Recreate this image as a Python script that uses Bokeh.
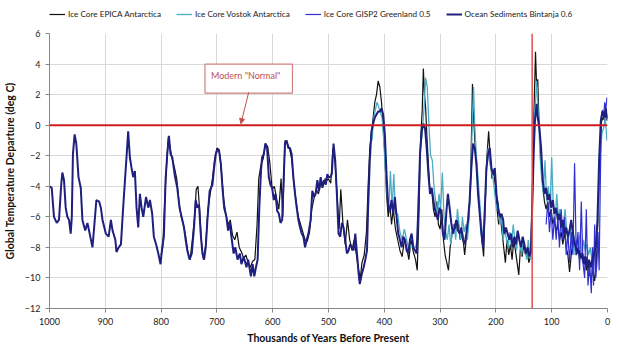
from bokeh.plotting import figure
from bokeh.layouts import column
from bokeh.models import (Range1d, Legend, LegendItem, Label, Arrow, NormalHead,
                          Span, FixedTicker)
from bokeh.embed import file_html
from bokeh.resources import INLINE

# ---------------- data (thousands of years BP, deg C departure) ----------------
bint_x = [1000, 996, 992, 987, 983, 979, 977, 974, 971, 968, 965, 962, 960, 958, 955, 952,
          948, 944, 941, 936, 932, 928, 923, 920, 916, 911, 908, 905, 899, 894, 890, 887,
          882, 880, 876, 872, 868, 864, 862, 859, 856, 853, 850, 847, 844, 841, 838, 835,
          832, 827, 823, 820, 816, 813, 809, 805, 801, 798, 795, 792, 789, 786, 783, 780,
          775, 771, 767, 762, 759, 756, 753, 749, 745, 741, 738, 735, 732, 729, 726, 723,
          720, 717, 713, 708, 705, 702, 699, 696, 693, 690, 687, 683, 680, 677, 674, 670,
          667, 663, 659, 656, 652, 647, 644, 639, 636, 633, 630, 627, 624, 621, 619, 616,
          613, 610, 607, 604, 601, 598, 595, 592, 589, 586, 583, 578, 575, 572, 569, 566,
          563, 560, 557, 554, 551, 548, 545, 542, 539, 536, 532, 529, 526, 523, 520, 517,
          514, 511, 508, 505, 502, 500, 497, 494, 491, 488, 485, 482, 479, 476, 473, 470,
          467, 464, 461, 458, 455, 452, 449, 446, 444, 440, 437, 434, 431, 429, 426, 423,
          420, 417, 414, 411, 408, 405, 402, 399, 396, 393, 390, 387, 384, 381, 378, 375,
          372, 369, 366, 363, 360, 357, 354, 351, 348, 345, 342, 339, 336, 333, 330, 327,
          324, 321, 318, 315, 312, 310, 307, 304, 301, 298, 295, 292, 289, 286, 283, 280,
          277, 274, 271, 268, 265, 262, 259, 256, 253, 250, 247, 244, 241, 238, 235, 232,
          229, 226, 223, 220, 217, 214, 211, 208, 205, 202, 199, 196, 193, 190, 187, 185,
          182, 179, 176, 173, 170, 167, 164, 161, 158, 155, 152, 149, 146, 143, 140, 137,
          134, 132, 130, 127, 125, 122, 119, 116, 113, 110, 107, 104, 101, 98, 95, 92,
          89, 86, 83, 80, 77, 74, 71, 68, 65, 62, 60, 57, 54, 51, 48, 45, 42, 39, 36, 33,
          30, 27, 24, 21, 18, 15, 12, 9, 6, 3, 0]
bint_y = [-4.0, -4.1, -6.0, -6.4, -6.2, -3.9, -3.1, -3.6, -5.4, -6.0, -6.2, -7.1, -6.0, -1.9, -0.6, -1.2,
          -3.4, -4.1, -6.2, -6.9, -6.4, -7.1, -8.0, -6.7, -4.9, -5.0, -5.4, -6.2, -7.1, -7.3, -6.2, -6.9,
          -7.5, -8.3, -8.0, -7.8, -5.4, -3.2, -2.1, -0.4, -2.1, -2.8, -3.4, -3.0, -5.4, -6.7, -4.5, -5.4,
          -6.0, -4.7, -5.4, -4.9, -5.8, -7.3, -7.8, -8.4, -9.1, -8.0, -7.3, -3.6, -1.9, -0.7, -1.9, -2.1,
          -3.4, -4.1, -5.4, -6.2, -6.7, -7.5, -8.2, -8.8, -8.4, -6.7, -4.9, -5.4, -5.2, -7.1, -8.4, -8.8,
          -8.0, -6.2, -4.3, -3.9, -2.8, -1.9, -1.6, -1.7, -2.5, -4.1, -5.4, -6.0, -6.9, -6.4, -7.3, -8.4,
          -8.0, -8.8, -8.4, -9.1, -8.6, -9.3, -8.8, -9.9, -9.1, -9.9, -9.3, -8.8, -5.4, -3.0, -2.1, -1.9,
          -1.2, -1.5, -3.4, -3.9, -4.1, -4.9, -4.5, -5.6, -5.8, -6.4, -6.2, -1.2, -1.0, -1.5, -1.5, -1.9,
          -3.4, -4.5, -5.4, -6.2, -6.7, -7.1, -7.3, -8.0, -7.5, -7.1, -6.2, -4.3, -4.7, -4.5, -3.6, -4.3,
          -3.4, -4.1, -3.6, -3.9, -3.2, -3.4, -3.4, -3.2, -1.2, -2.3, -4.5, -7.1, -7.3, -6.4, -6.7, -7.5,
          -8.4, -8.2, -7.8, -8.0, -8.2, -7.1, -8.4, -9.7, -10.4, -9.7, -9.3, -8.8, -8.2, -5.4, -2.3, -0.4,
          0.1, 0.5, 0.7, 0.9, 0.9, 1.1, 0.7, -0.6, -3.2, -5.4, -5.6, -4.9, -5.8, -4.7, -6.0, -7.1,
          -7.5, -8.0, -7.3, -7.5, -8.2, -8.4, -7.5, -7.1, -8.0, -8.2, -8.4, -5.4, -1.9, -0.4, 0.1, -0.2,
          -1.5, -3.2, -4.5, -4.1, -4.9, -5.4, -5.8, -6.2, -5.4, -5.8, -7.1, -7.5, -5.8, -4.5, -5.4, -6.4,
          -7.1, -6.7, -6.2, -6.9, -7.1, -6.7, -7.5, -7.8, -7.1, -6.2, -4.9, -2.8, -1.2, -1.5, -2.5, -4.5,
          -5.8, -7.1, -8.0, -5.6, -2.8, -1.9, -1.5, -2.8, -3.2, -2.8, -4.5, -5.4, -6.0, -5.8, -6.2, -7.1,
          -6.7, -7.1, -7.5, -7.1, -8.0, -7.3, -7.8, -6.9, -7.5, -8.0, -7.3, -7.8, -8.4, -8.0, -8.6, -8.2,
          -4.1, -1.5, 0.3, 1.4, 0.5, -0.2, -1.5, -3.6, -4.5, -4.1, -4.9, -4.5, -5.4, -4.9, -5.8, -5.4,
          -6.2, -5.8, -6.7, -6.2, -7.1, -6.7, -7.3, -6.9, -6.2, -7.1, -7.5, -8.0, -8.4, -8.2, -8.6, -8.4,
          -9.1, -8.6, -9.3, -8.8, -9.3, -8.8, -8.4, -8.0, -6.2, -2.3, 0.3, 0.9, 0.5, 1.1, 0.3]

epica_x = [800, 797, 793, 790, 787, 784, 780, 776, 772, 768, 764, 760, 756, 752, 748, 744,
           740, 737, 734, 731, 728, 724, 720, 716, 712, 708, 704, 700, 696, 692, 688, 684,
           680, 676, 672, 668, 664, 660, 656, 652, 648, 644, 640, 636, 632, 628, 625, 621,
           617, 613, 609, 605, 601, 597, 593, 589, 585, 582, 578, 574, 570, 566, 562, 558,
           554, 550, 546, 542, 538, 534, 530, 526, 522, 518, 514, 510, 506, 502, 500, 496,
           492, 488, 484, 481, 478, 474, 470, 466, 462, 458, 454, 450, 446, 443, 440, 436,
           432, 429, 426, 423, 420, 417, 414, 411, 408, 405, 402, 399, 396, 393, 390, 387,
           384, 380, 376, 372, 368, 364, 360, 356, 352, 348, 344, 341, 338, 335, 332, 330,
           328, 326, 324, 321, 318, 315, 312, 309, 306, 303, 300, 297, 294, 291, 288, 285,
           282, 279, 276, 272, 268, 264, 260, 256, 252, 248, 245, 242, 240, 237, 234, 231,
           228, 225, 222, 219, 216, 213, 210, 207, 204, 201, 198, 195, 192, 189, 186, 183,
           180, 177, 174, 171, 168, 165, 162, 159, 156, 153, 150, 147, 144, 141, 138, 135,
           133, 131, 129, 127, 125, 123, 121, 119, 116, 113, 110, 107, 104, 101, 98, 95,
           92, 89, 86, 83, 80, 77, 74, 71, 68, 65, 62, 59, 56, 53, 50, 47,
           44, 41, 38, 35, 32, 29, 26, 23, 20, 17, 14, 11, 8, 5, 2, 0]
epica_y = [-8.5, -8.0, -4.5, -2.5, -0.8, -1.5, -2.2, -2.8, -3.5, -5.0, -6.0, -6.5, -7.3, -8.3, -8.8, -7.5,
           -6.0, -4.2, -4.0, -5.5, -7.5, -8.8, -7.8, -5.5, -4.5, -3.5, -2.2, -1.5, -1.6, -3.0, -4.8, -5.8,
           -6.5, -6.2, -7.2, -7.5, -7.0, -8.0, -8.3, -8.7, -8.5, -9.0, -9.3, -8.9, -8.8, -6.5, -3.5, -2.6,
           -2.2, -1.2, -1.4, -2.5, -4.2, -4.0, -4.8, -5.5, -3.5, -6.0, -1.0, -1.2, -1.5, -2.2, -3.8, -5.0,
           -6.0, -6.5, -7.0, -7.5, -7.6, -7.0, -5.5, -4.8, -4.2, -4.5, -3.8, -4.0, -3.5, -3.6, -3.5, -3.8,
           -1.5, -2.5, -5.0, -6.8, -4.2, -6.5, -7.8, -6.2, -7.5, -8.2, -7.5, -8.5, -9.5, -10.0, -9.0, -8.5,
           -7.0, -4.0, -1.5, -0.5, 0.5, 1.5, 2.0, 2.9, 2.5, 1.5, 0.0, -2.0, -4.5, -6.0, -5.2, -6.5,
           -5.5, -6.8, -7.5, -8.2, -8.6, -7.5, -8.0, -8.8, -7.5, -8.3, -8.8, -9.5, -6.0, -1.0, 1.0, 3.7,
           2.0, 1.2, -0.5, -2.5, -4.5, -4.2, -5.5, -6.0, -5.0, -6.5, -6.8, -5.5, -7.5, -8.5, -9.0, -9.5,
           -8.0, -7.2, -6.5, -6.8, -6.2, -7.5, -7.0, -8.5, -7.0, -6.0, -3.0, 2.7, 0.5, -1.5, -3.0, -4.5,
           -6.0, -7.5, -8.6, -5.0, -2.0, -0.4, -2.2, -3.5, -3.0, -4.0, -5.5, -6.5, -6.0, -7.0, -8.0, -9.0,
           -7.5, -8.5, -7.8, -8.8, -7.5, -8.2, -9.0, -9.8, -8.0, -8.6, -7.8, -8.5, -8.2, -9.0, -8.6, -5.0,
           -1.0, 2.0, 4.8, 2.5, 3.0, 0.5, -1.0, -2.5, -4.0, -5.0, -5.5, -5.0, -6.0, -5.5, -6.5, -6.0,
           -7.0, -6.5, -7.5, -7.0, -7.8, -7.0, -8.0, -8.5, -9.6, -8.5, -7.5, -8.0, -8.5, -8.0, -8.8, -8.5,
           -9.0, -8.6, -9.5, -9.0, -9.8, -10.0, -9.5, -10.2, -9.0, -6.0, -1.5, 0.2, 0.5, 0.3, 0.8, 0.5]

vostok_x = [422, 419, 416, 413, 410, 407, 404, 401, 398, 395, 392, 389, 386, 383, 380, 376,
            372, 368, 364, 360, 356, 352, 348, 344, 341, 338, 335, 332, 329, 326, 323, 320,
            317, 314, 311, 308, 305, 302, 299, 296, 293, 290, 287, 284, 281, 278, 275, 272,
            269, 266, 263, 260, 257, 254, 251, 248, 245, 242, 240, 238, 235, 232, 229, 226,
            223, 220, 217, 214, 211, 208, 205, 202, 199, 196, 193, 190, 187, 184, 181, 178,
            175, 172, 169, 166, 163, 160, 157, 154, 151, 148, 145, 142, 139, 137, 135, 133,
            131, 129, 127, 125, 123, 121, 118, 115, 112, 109, 106, 103, 100, 97, 94, 91,
            88, 85, 82, 79, 76, 73, 70, 67, 64, 61, 58, 55, 52, 49, 46, 43,
            40, 37, 34, 31, 28, 25, 22, 19, 16, 13, 10, 7, 4, 1]
vostok_y = [-1.0, 0.5, 1.0, 1.5, 1.2, 0.8, 0.5, -1.0, -3.0, -4.5, -5.5, -3.0, -5.5, -3.2, -5.8, -5.8,
            -7.0, -7.5, -6.8, -7.5, -8.2, -7.8, -8.0, -8.0, -7.5, -4.0, -1.5, -0.5, 1.0, 3.1, 2.5, 0.0,
            -2.0, -2.3, -4.0, -5.0, -6.0, -4.5, -5.5, -3.1, -6.0, -7.0, -7.5, -6.5, -7.8, -7.0, -6.5, -7.5,
            -5.5, -6.5, -7.5, -6.0, -7.0, -6.5, -7.5, -6.0, -3.5, 0.5, 2.5, 0.0, -2.0, -3.5, -5.0, -6.5,
            -7.5, -6.0, -3.0, -1.5, -2.5, -3.0, -3.5, -4.5, -5.5, -5.0, -6.5, -6.0, -7.5, -6.8, -7.5, -8.0,
            -7.0, -8.0, -6.5, -7.5, -8.2, -7.0, -7.8, -8.5, -7.5, -8.0, -8.8, -7.5, -8.5, -8.8, -6.0, -2.0,
            0.5, 1.5, 2.9, 1.5, 0.0, -2.0, -3.5, -4.5, -2.3, -5.0, -4.0, -5.5, -2.1, -5.5, -6.5, -4.5,
            -6.0, -5.5, -7.0, -6.5, -5.5, -7.0, -7.5, -6.5, -8.0, -7.0, -8.5, -7.5, -8.0, -7.0, -8.5, -7.5,
            -8.2, -7.8, -8.5, -8.0, -8.8, -8.0, -8.5, -7.5, -5.0, -2.0, -0.5, -0.2, 0.5, -1.0]

gisp_x = [110, 107, 104, 101, 98, 95, 92, 89, 86, 83, 80, 77, 74, 71, 68, 65,
          62, 59, 56, 53, 50, 47, 44, 41, 38, 35, 32, 29, 27, 25, 23, 21,
          19, 17, 15, 13, 11, 9, 7, 5, 3, 1]
gisp_y = [-6.5, -5.0, -7.0, -5.5, -7.5, -6.0, -7.5, -6.0, -8.0, -5.5, -7.5, -6.0, -8.5, -7.0, -9.0, -7.0,
          -8.5, -2.5, -8.5, -7.0, -9.5, -5.0, -9.0, -10.0, -5.5, -10.5, -9.0, -11.0, -8.0, -10.5, -6.5, -10.0,
          -9.0, -7.0, -9.5, -4.0, 0.5, 1.0, 0.5, 1.5, 1.0, 1.8]

labels = ["Ice Core EPICA Antarctica", "Ice Core Vostok Antarctica",
          "Ice Core GISP2 Greenland 0.5", "Ocean Sediments Bintanja 0.6"]
x_ticks = list(range(0, 1001, 100))
y_ticks = list(range(-12, 7, 2))
modern_normal = 0
interglacial_mark = 135
note_text = 'Modern "Normal"'
note_pos = (643, 3.05)
arrow_from = (643, 2.15)
arrow_to = (657, 0.1)

FONT = "Lato"
COLORS = ["#111111", "#4bacc6", "#2f2fd0", "#1f1f80"]
WIDTHS = [1.2, 1.3, 1.2, 2.0]
HEAD_H = 24
MAIN_H = 353 - HEAD_H

# ---------------- main chart ----------------
p = figure(width=620, height=MAIN_H, output_backend="svg", toolbar_location=None,
           x_range=Range1d(1000, 0), y_range=Range1d(-12, 6),
           min_border_left=47, min_border_right=13, min_border_top=33 - HEAD_H, min_border_bottom=45)
p.background_fill_color = "white"
p.border_fill_color = "white"
p.outline_line_color = None

series = [(epica_x, epica_y), (vostok_x, vostok_y), (gisp_x, gisp_y), (bint_x, bint_y)]
for (sx, sy), c, w in zip(series, COLORS, WIDTHS):
    p.line(sx, sy, line_color=c, line_width=w)

p.add_layout(Span(location=modern_normal, dimension="width", line_color="#d01c1c", line_width=2))
p.add_layout(Span(location=interglacial_mark, dimension="height", line_color="#e05050", line_width=1.5))

p.xaxis.ticker = FixedTicker(ticks=x_ticks)
p.yaxis.ticker = FixedTicker(ticks=y_ticks)
for ax in (p.xaxis[0], p.yaxis[0]):
    ax.axis_line_color = "#868686"
    ax.major_tick_line_color = "#868686"
    ax.major_tick_out = 4
    ax.major_tick_in = 0
    ax.minor_tick_line_color = None
    ax.major_label_text_font = FONT
    ax.major_label_text_font_size = "9px"
    ax.major_label_text_color = "#222222"
    ax.axis_label_text_font = FONT
    ax.axis_label_text_font_size = "10.5px"
    ax.axis_label_text_font_style = "bold"
    ax.axis_label_text_color = "#111111"
p.xaxis.axis_label = "Thousands of Years Before Present"
p.yaxis.axis_label = "Global Temperature Departure (deg C)"
p.xaxis.axis_label_standoff = 4
p.yaxis.axis_label_standoff = 6
p.grid.grid_line_color = "#d9d9d9"
p.grid.grid_line_width = 1

p.add_layout(Label(x=note_pos[0], y=note_pos[1], text=note_text, text_align="center",
                   text_baseline="middle", text_font=FONT, text_font_size="9px",
                   text_color="#c0504d", border_line_color="#d08080", border_line_width=1.2,
                   background_fill_color="white", padding=(6, 12, 6, 12)))
p.add_layout(Arrow(x_start=arrow_from[0], y_start=arrow_from[1], x_end=arrow_to[0], y_end=arrow_to[1],
                   line_color="#c0504d", line_width=1,
                   end=NormalHead(size=5, fill_color="#c0504d", line_color="#c0504d")))

# ---------------- legend strip (frame aligned with the chart frame) ----------------
h = figure(width=620, height=HEAD_H, output_backend="svg", toolbar_location=None,
           x_axis_type=None, y_axis_type=None, x_range=Range1d(0, 1), y_range=Range1d(0, 1),
           min_border=0)
h.outline_line_color = None
h.grid.visible = False
items = []
for lab, (sx, sy), c, w in zip(labels, series, COLORS, WIDTHS):
    r = h.line(x=sx[:1], y=sy[:1], line_color=c, line_width=w)  # off-range: only feeds the legend
    items.append(LegendItem(label=lab, renderers=[r]))
legend = Legend(items=items, orientation="horizontal", location=(0, 5),
                label_text_font=FONT, label_text_font_size="8.2px", label_text_color="#222222",
                glyph_width=16, glyph_height=10, spacing=15, label_standoff=3,
                padding=0, margin=0, border_line_color=None, background_fill_alpha=0)
h.add_layout(legend, "center")

open("out.html", "w").write(file_html(column(h, p, spacing=0), INLINE))
